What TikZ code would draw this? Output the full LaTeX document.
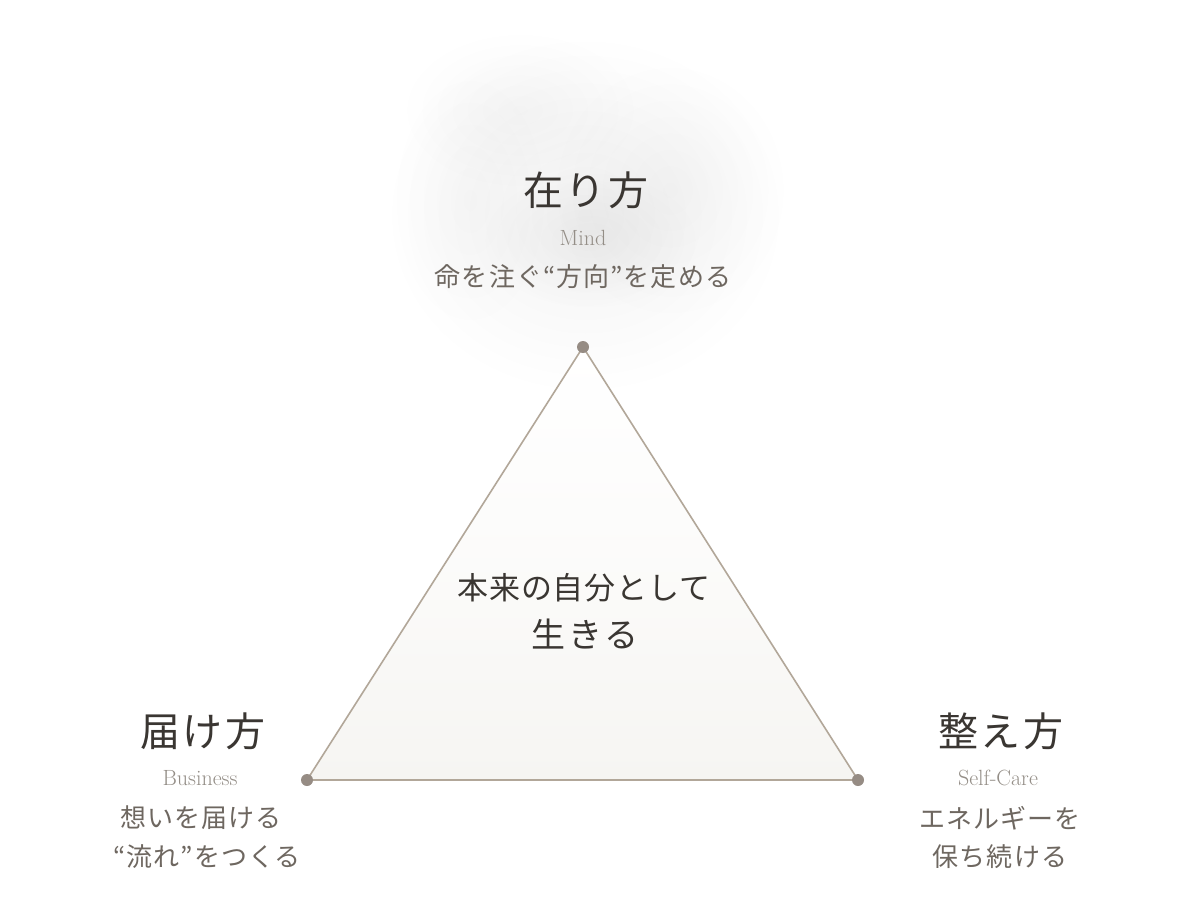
\documentclass[tikz,border=0pt]{standalone}
\usepackage{fontspec}
\newfontfamily\cjk{Noto Sans CJK JP}
\usetikzlibrary{fadings}
\definecolor{titlec}{HTML}{3A3632}
\definecolor{subc}{HTML}{6E6760}
\definecolor{enc}{HTML}{948E87}
\definecolor{linec}{HTML}{B2A799}
\definecolor{dotc}{HTML}{968C84}
\definecolor{fillc}{HTML}{F6F5F2}
\tikzfading[name=glow, inner color=transparent!0, outer color=transparent!100]
\tikzset{
  title/.style={font=\cjk\fontsize{40}{46}\selectfont\addfontfeature{LetterSpace=6}, text=titlec, inner sep=0pt},
  en/.style={font=\fontsize{22}{24}\selectfont, text=enc, inner sep=0pt},
  sub/.style={font=\cjk\fontsize{26}{30}\selectfont\addfontfeature{LetterSpace=4}, text=subc, inner sep=0pt},
  center/.style={font=\cjk\fontsize{31}{36}\selectfont\addfontfeature{LetterSpace=3}, text=titlec, inner sep=0pt},
  dot/.style={circle, fill=dotc, minimum size=12pt, inner sep=0pt},
  edge/.style={draw=linec, line width=1.6pt},
  haze/.style={fill=black, path fading=glow}
}
\begin{document}
\begin{tikzpicture}[x=1pt,y=-1pt]
\useasboundingbox (0,0) rectangle (1200,900);
\fill[white] (0,0) rectangle (1200,900);
% glow
\fill[haze, fill opacity=0.05] (585,215) ellipse (200 and 180);
\fill[haze, fill opacity=0.03] (520,110) ellipse (120 and 80);
\fill[haze, fill opacity=0.03] (670,190) ellipse (120 and 130);
\fill[haze, fill opacity=0.04] (590,240) ellipse (110 and 70);
\fill[haze, fill opacity=0.025] (470,200) ellipse (80 and 130);
% triangle
\coordinate (T) at (583,347);
\coordinate (L) at (307,780);
\coordinate (R) at (858,780);
\shade[top color=white, bottom color=fillc, middle color=white!60!fillc] (T) -- (L) -- (R) -- cycle;
\draw[edge] (T) -- (L) -- (R) -- cycle;
\node[dot] (dT) at (T) {};
\node[dot] (dL) at (L) {};
\node[dot] (dR) at (R) {};
% top
\node[title] (t1) at (586,190) {在り方};
\node[en] (e1) at (583,238) {Mind};
\node[sub] (s1) at (583,277) {命を注ぐ“方向”を定める};
% center
\node[center] (c1) at (584,588) {本来の自分として};
\node[center, font=\cjk\fontsize{34}{40}\selectfont\addfontfeature{LetterSpace=8}] (c2) at (585,634) {生きる};
% left
\node[title] (t2) at (203,731) {届け方};
\node[en] (e2) at (200,778) {Business};
\node[sub] (s2a) at (201,818) {想いを届ける};
\node[sub] (s2b) at (207,857) {“流れ”をつくる};
% right
\node[title] (t3) at (1001,731) {整え方};
\node[en] (e3) at (998,778) {Self-Care};
\node[sub] (s3a) at (1000,818) {エネルギーを};
\node[sub] (s3b) at (1000,857) {保ち続ける};
\end{tikzpicture}
\end{document}
